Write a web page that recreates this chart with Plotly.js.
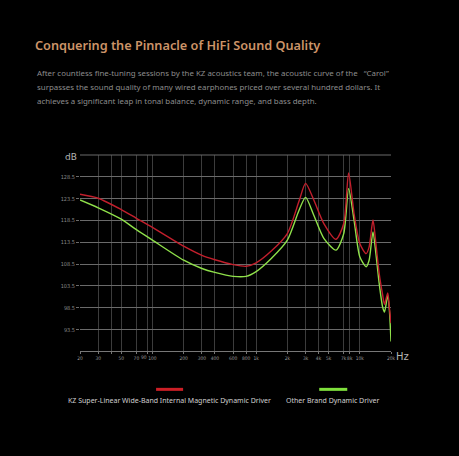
<!DOCTYPE html>
<html>
<head>
<meta charset="utf-8">
<script src="https://cdn.plot.ly/plotly-3.0.1.min.js"></script>
<style>
  html, body { margin: 0; padding: 0; background: #000; }
  #chart { width: 459px; height: 456px; }
</style>
</head>
<body>
<div id="chart"></div>
<script>
// Frequencies (Hz) at which values were read
const freqs = [20, 30, 50, 70, 100, 200, 300, 400, 600, 800, 1000, 1400, 2000, 2600, 3000, 3600, 4500, 5900, 7000, 7800, 8800, 10000, 11500, 12300, 13400, 14300, 15400, 16600, 17300, 18600, 19300, 20000];
// KZ Super-Linear Wide-Band Internal Magnetic Dynamic Driver (dB)
const kzValues = [124.5, 123.6, 121.0, 119.0, 116.9, 112.6, 110.5, 109.5, 108.4, 108.0, 108.8, 111.5, 115.5, 123.0, 127.0, 123.2, 117.8, 114.2, 117.8, 129.4, 120.1, 113.2, 110.9, 112.4, 118.6, 113.2, 106.3, 101.5, 99.3, 101.9, 98.5, 95.0];
// Other Brand Dynamic Driver (dB)
const otherValues = [123.2, 121.4, 118.8, 116.4, 114.0, 109.4, 107.5, 106.6, 105.7, 105.7, 106.8, 109.8, 114.0, 120.9, 123.8, 119.7, 114.4, 111.7, 115.5, 125.8, 118.6, 110.2, 107.9, 109.4, 115.9, 110.9, 104.0, 98.7, 97.5, 101.4, 97.9, 90.8];

const seriesNames = ["KZ Super-Linear Wide-Band Internal Magnetic Dynamic Driver", "Other Brand Dynamic Driver"];

// tick at 90 Hz keeps its gridline; its label "90" is set beside the crowded "100" label
const xTickVals = [20, 30, 40, 50, 70, 90, 100, 200, 300, 400, 600, 800, 1000, 2000, 3000, 4000, 5000, 7000, 8000, 10000, 20000];
const xTickText = ["20", "30", "", "50", "70", "", "100", "200", "300", "400", "600", "800", "1k", "2k", "3k", "4k", "5k", "7k", "8k", "10k", "20k"];
const crowdedTickLabel = "90";
const yTickVals = [93.5, 98.5, 103.5, 108.5, 113.5, 118.5, 123.5, 128.5];
const yTickText = ["93.5", "98.5", "103.5", "108.5", "113.5", "118.5", "123.5", "128.5"];

const titleText = "Conquering the Pinnacle of HiFi Sound Quality";
const paragraphLines = [
  "After countless fine-tuning sessions by the KZ acoustics team, the acoustic curve of the\u00a0\u00a0\u00a0“Carol”",
  "surpasses the sound quality of many wired earphones priced over several hundred dollars. It",
  "achieves a significant leap in tonal balance, dynamic range, and bass depth."
];

const redColor = "#c21f2c";
const greenColor = "#8fe04a";

const traces = [
  {
    x: freqs, y: otherValues, name: seriesNames[1], type: "scatter", mode: "lines",
    line: { color: greenColor, width: 1.4, shape: "spline", smoothing: 0.7 },
    showlegend: false, hoverinfo: "skip"
  },
  {
    x: freqs, y: kzValues, name: seriesNames[0], type: "scatter", mode: "lines",
    line: { color: redColor, width: 1.4, shape: "spline", smoothing: 0.7 },
    showlegend: false, hoverinfo: "skip"
  }
];

const W = 459, H = 456;
const plotL = 80, plotR = 390.7, plotT = 155, plotB = 350.7;
const pw = plotR - plotL, ph = plotB - plotT;
const px = v => (v - plotL) / pw;
const py = v => (plotB - v) / ph;

const tickFont = { family: "DejaVu Sans Condensed, DejaVu Sans, sans-serif", size: 4.9, color: "#9a9a9a" };

const annotations = [];
paragraphLines.forEach((t, i) => {
  annotations.push({
    text: t, xref: "paper", yref: "paper", x: px(35), y: py(73.5 + i * 13.7),
    xanchor: "left", yanchor: "middle", showarrow: false, align: "left",
    font: { family: "Noto Sans, Open Sans, sans-serif", size: 7.9, color: "#8c8c8c" }
  });
});
annotations.push({
  text: crowdedTickLabel, xref: "paper", yref: "paper", x: px(148), y: py(357),
  xanchor: "right", yanchor: "middle", showarrow: false, borderpad: 0,
  font: tickFont
});
annotations.push({
  text: "dB", xref: "paper", yref: "paper", x: px(79), y: py(156.5),
  xanchor: "right", yanchor: "middle", showarrow: false,
  font: { family: "DejaVu Sans, sans-serif", size: 9, color: "#b5b5b5" }
});
annotations.push({
  text: "Hz", xref: "paper", yref: "paper", x: px(394), y: py(356),
  xanchor: "left", yanchor: "middle", showarrow: false,
  font: { family: "DejaVu Sans, sans-serif", size: 10, color: "#b5b5b5" }
});
annotations.push({
  text: seriesNames[0], xref: "paper", yref: "paper", x: px(169), y: py(400),
  xanchor: "center", yanchor: "middle", showarrow: false,
  font: { family: "Noto Sans, Open Sans, sans-serif", size: 7.0, color: "#d0d0d0" }
});
annotations.push({
  text: seriesNames[1], xref: "paper", yref: "paper", x: px(332.5), y: py(400),
  xanchor: "center", yanchor: "middle", showarrow: false,
  font: { family: "Noto Sans, Open Sans, sans-serif", size: 7.0, color: "#d0d0d0" }
});

const shapes = [
  { type: "line", xref: "paper", yref: "paper", x0: 0, x1: 1, y0: 1, y1: 1,
    line: { color: "#6a6a6a", width: 1 } },
  { type: "line", xref: "paper", yref: "paper", x0: px(156), x1: px(183), y0: py(389), y1: py(389),
    line: { color: "#cc1f26", width: 3 } },
  { type: "line", xref: "paper", yref: "paper", x0: px(319), x1: px(347), y0: py(389), y1: py(389),
    line: { color: "#7fe03c", width: 3 } }
];

const layout = {
  width: W, height: H,
  paper_bgcolor: "#000", plot_bgcolor: "#000",
  margin: { l: plotL, r: W - plotR, t: plotT, b: H - plotB, pad: 0 },
  title: {
    text: titleText, xref: "container", yref: "container",
    x: 35 / W, xanchor: "left", y: 1 - 46 / H, yanchor: "middle",
    font: { family: "Noto Sans, Open Sans, sans-serif", size: 12.7, weight: 600, color: "#cc9468" }
  },
  xaxis: {
    type: "log", range: [Math.log10(20), Math.log10(20000)],
    tickmode: "array", tickvals: xTickVals, ticktext: xTickText, tickangle: 0,
    showgrid: true, gridcolor: "#3c3c3c", gridwidth: 1,
    showline: true, linecolor: "#777", linewidth: 1,
    ticks: "outside", ticklen: 2, tickcolor: "#777",
    tickfont: tickFont,
    zeroline: false, fixedrange: true
  },
  yaxis: {
    range: [88.6, 133.5],
    tickmode: "array", tickvals: yTickVals, ticktext: yTickText,
    showgrid: true, gridcolor: "#6a6a6a", gridwidth: 1,
    showline: false,
    ticks: "outside", ticklen: 3, tickcolor: "#6a6a6a",
    tickfont: { family: "DejaVu Sans Condensed, DejaVu Sans, sans-serif", size: 5.5, color: "#8a8a8a" },
    zeroline: false, fixedrange: true
  },
  annotations: annotations,
  shapes: shapes,
  showlegend: false
};

Plotly.newPlot("chart", traces, layout, { displayModeBar: false, staticPlot: true });
</script>
</body>
</html>
